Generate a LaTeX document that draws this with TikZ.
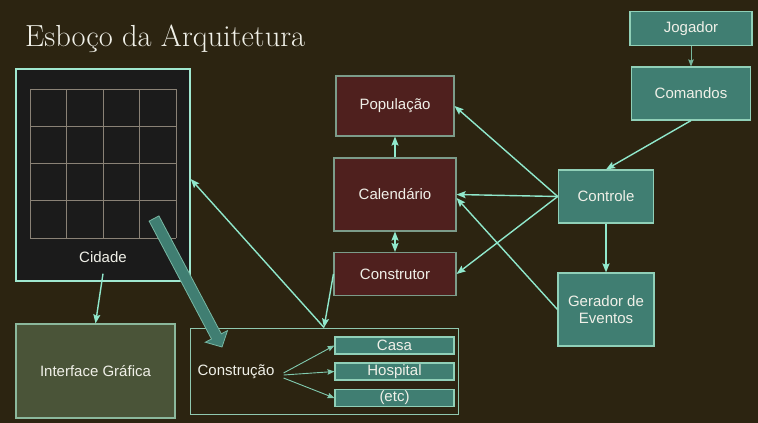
\documentclass[tikz,border=0pt]{standalone}
\usepackage{fontspec}
\newfontfamily\boxfont{Liberation Sans}
\usetikzlibrary{arrows.meta,calc}
\definecolor{bg}{RGB}{44,36,17}
\definecolor{cityfill}{RGB}{27,27,27}
\definecolor{cityedge}{RGB}{160,232,208}
\definecolor{gridc}{RGB}{138,130,118}
\definecolor{olivefill}{RGB}{74,84,56}
\definecolor{oliveedge}{RGB}{139,184,156}
\definecolor{redfill}{RGB}{79,32,30}
\definecolor{rededge}{RGB}{124,156,138}
\definecolor{tealfill}{RGB}{64,126,114}
\definecolor{tealedge}{RGB}{144,208,184}
\definecolor{arrc}{RGB}{144,232,204}
\definecolor{consedge}{RGB}{144,200,176}
\definecolor{txt}{RGB}{240,240,232}
\begin{document}
\begin{tikzpicture}[x=1pt,y=-1pt,
  boxtext/.style={text=txt,font=\boxfont\fontsize{15}{17.5}\selectfont},
  anybox/.style={boxtext,rectangle,inner sep=0pt,line width=1.1pt},
  redbox/.style={anybox,fill=redfill,draw=rededge},
  tealbox/.style={anybox,fill=tealfill,draw=tealedge},
  arr/.style={draw=arrc,line width=1.4pt,-{Stealth[length=9pt,width=7pt,inset=1.5pt]}},
  thinarr/.style={draw=arrc!85!bg,line width=0.9pt,-{Stealth[length=7pt,width=5.5pt,inset=1pt]}},
  lbl/.style={boxtext,inner sep=0pt}
]
\useasboundingbox (0,0) rectangle (758,423);
\fill[bg] (0,0) rectangle (758,423);

% title
\node[anchor=base west,inner sep=0pt,text=txt,font=\fontsize{30.5}{32}\selectfont] (title) at (25,46.7) {Esboço da Arquitetura};

% Cidade
\node[rectangle,fill=cityfill,draw=cityedge,line width=1.4pt,minimum width=174pt,minimum height=212pt,inner sep=0pt] (cidade) at (103,175) {};
\foreach \x in {30,66.5,103,139.5,176} \draw[gridc,line width=0.9pt] (\x,89) -- (\x,238);
\foreach \y in {89,126.25,163.5,200.75,238} \draw[gridc,line width=0.9pt] (30,\y) -- (176,\y);
\node[lbl] (cidlbl) at (103,257) {Cidade};

% Interface
\node[anybox,fill=olivefill,draw=oliveedge,minimum width=159pt,minimum height=94pt] (interface) at (95.5,371) {Interface Gráfica};

% Construcao
\node[rectangle,draw=consedge,line width=1pt,minimum width=268pt,minimum height=86pt,inner sep=0pt] (constr) at (324,371) {};
\node[lbl] (conslbl) at (236,372) {Construção};
\node[tealbox,minimum width=119pt,minimum height=17pt] (casa) at (394.5,345.5) {Casa};
\node[tealbox,minimum width=119pt,minimum height=17pt] (hosp) at (394.5,371.5) {Hospital};
\node[tealbox,minimum width=119pt,minimum height=17pt] (etc) at (394.5,398) {(etc)};

% red boxes
\node[redbox,minimum width=118pt,minimum height=60pt] (pop) at (395,106) {População};
\node[redbox,minimum width=122pt,minimum height=73pt] (cal) at (395,194.5) {Calendário};
\node[redbox,minimum width=122pt,minimum height=43pt] (cons) at (395,274) {Construtor};

% teal boxes right
\node[tealbox,minimum width=122pt,minimum height=33.5pt] (jog) at (691,28.5) {Jogador};
\node[tealbox,minimum width=119pt,minimum height=53pt] (com) at (691,93.5) {Comandos};
\node[tealbox,minimum width=95.5pt,minimum height=53pt] (ctrl) at (606,196.5) {Controle};
\node[tealbox,minimum width=96pt,minimum height=73pt,align=center] (ger) at (606,309.5) {Gerador de\\Eventos};

% big fat arrow
\draw[fill=tealfill,draw=tealedge!70!tealfill,line width=0.8pt,line join=miter]
  (149.1,221.1) -- (158.9,215.9) -- (221.3,333.8) -- (227.5,330.6) -- (222,347) -- (205.3,342.2) -- (211.5,339.0) -- cycle;

% connectors
\draw[arr] (cal.north) -- (pop.south);
\draw[arr,{Stealth[length=9pt,width=7pt,inset=1.5pt]}-{Stealth[length=9pt,width=7pt,inset=1.5pt]}] (cal.south) -- (cons.north);
\draw[thinarr,draw=arrc!75!bg] (jog.south) -- (com.north);
\draw[arr] (com.south) -- (ctrl.north);
\draw[arr,line width=2pt] (ctrl.south) -- (ger.north);
\draw[arr] (ctrl.west) -- (pop.east);
\draw[arr] (ctrl.west) -- (cal.east);
\draw[arr] (ctrl.west) -- (cons.east);
\draw[arr] (ger.west) -- ($(cal.east)+(0,3.5)$);
\draw[arr] (cons.west) -- (constr.north);
\draw[arr] (constr.north) -- ($(cidade.east)+(0,4)$);
\draw[arr] ($(cidade.south)+(0,-8)$) -- (interface.north);
\draw[thinarr] ($(conslbl.east)+(9,1)$) -- (casa.west);
\draw[thinarr] ($(conslbl.east)+(9,3)$) -- (hosp.west);
\draw[thinarr] ($(conslbl.east)+(9,6)$) -- (etc.west);
\end{tikzpicture}
\end{document}
